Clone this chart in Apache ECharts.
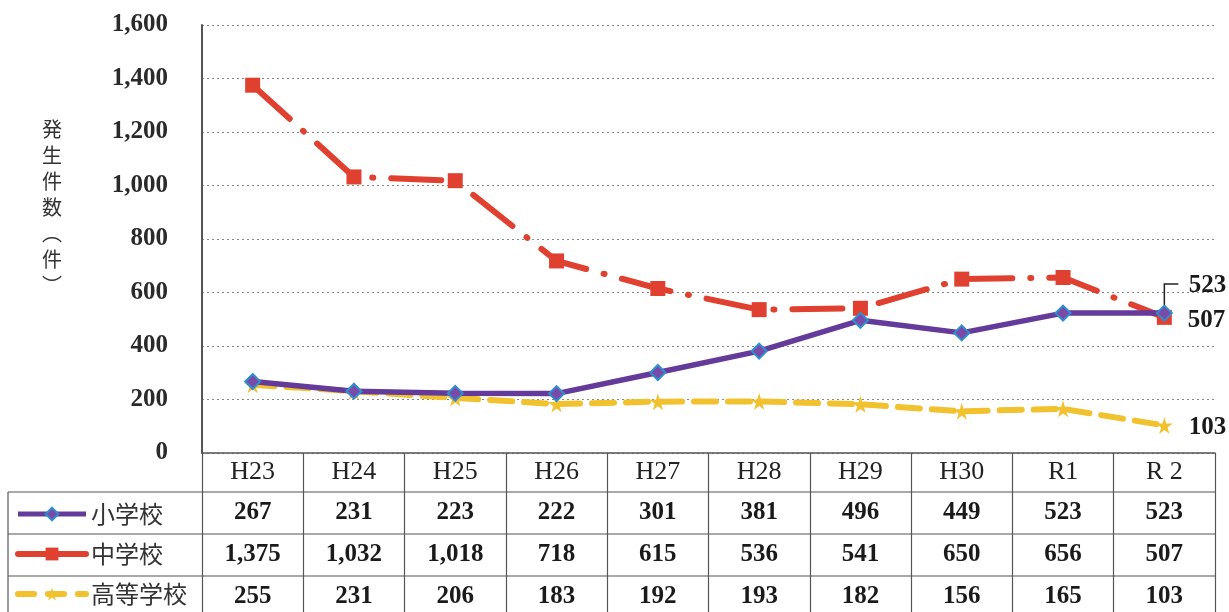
<!DOCTYPE html>
<html>
<head>
<meta charset="utf-8">
<script src="https://cdn.jsdelivr.net/npm/echarts@6/dist/echarts.min.js"></script>
<style>
  html, body { margin: 0; padding: 0; background: #fff; }
  #chart { width: 1229px; height: 612px; }
</style>
</head>
<body>
<div id="chart"></div>
<script>
// 年度
const years = ['H23', 'H24', 'H25', 'H26', 'H27', 'H28', 'H29', 'H30', 'R1', 'R 2'];
// 学校種別
const seriesNames = ['小学校', '中学校', '高等学校'];
const elementary = [267, 231, 223, 222, 301, 381, 496, 449, 523, 523];
const juniorHigh = [1375, 1032, 1018, 718, 615, 536, 541, 650, 656, 507];
const highSchool = [255, 231, 206, 183, 192, 193, 182, 156, 165, 103];
const yTitle = '発\n生\n件\n数\n︵\n件\n︶';

const serifFont = '"Liberation Serif", "DejaVu Serif", serif';
const cjkFont = '"Noto Sans CJK JP", "Noto Sans", sans-serif';

const fmt = v => v.toLocaleString('en-US');

const chart = echarts.init(document.getElementById('chart'));

// 最終年だけラベルを出す
function lastLabel(arr, offset) {
  return arr.map((v, i) => i === arr.length - 1
    ? { value: v, label: { show: true, position: 'right', offset: offset, formatter: fmt(v),
        fontFamily: serifFont, fontWeight: 'bold', fontSize: 25, color: '#1a1a1a' } }
    : v);
}

const starPath = 'path://M50,0 L61,35 L98,35 L68,57 L79,91 L50,70 L21,91 L32,57 L2,35 L39,35 Z';
const red = '#e0402f';
const purple = '#643a9a';
const yellow = '#f2c12e';

const option = {
  backgroundColor: '#ffffff',
  animation: false,
  grid: { left: 202, right: 14, top: 25, bottom: 159 },
  legend: {
    orient: 'vertical',
    left: 15,
    top: 502,
    padding: 0,
    itemWidth: 68,
    itemHeight: 16,
    itemGap: 16,
    textStyle: { fontFamily: cjkFont, fontSize: 24, color: '#333', lineHeight: 24 },
    data: [
      { name: seriesNames[0], lineStyle: { width: 5, color: purple } },
      { name: seriesNames[1], lineStyle: { type: 'solid', width: 6, color: red } },
      { name: seriesNames[2], lineStyle: { type: [16, 14], width: 6, color: yellow } }
    ]
  },
  xAxis: {
    type: 'category',
    data: years,
    boundaryGap: true,
    axisLine: { lineStyle: { color: '#555', width: 1.5 } },
    axisTick: { show: true, inside: false, length: 159, lineStyle: { color: '#555', width: 1.2 } },
    axisLabel: {
      margin: 0,
      interval: 0,
      formatter: (val, idx) => '{h|' + val + '}\n{v|' + fmt(elementary[idx]) + '}\n{v|' +
        fmt(juniorHigh[idx]) + '}\n{v|' + fmt(highSchool[idx]) + '}',
      rich: {
        h: { fontFamily: serifFont, fontSize: 26, color: '#222', lineHeight: 39 },
        v: { fontFamily: serifFont, fontWeight: 'bold', fontSize: 25, color: '#1a1a1a', lineHeight: 42 }
      }
    }
  },
  yAxis: {
    type: 'value',
    min: 0,
    max: 1600,
    interval: 200,
    axisLine: { show: true, lineStyle: { color: '#555', width: 2 } },
    axisTick: { show: false },
    axisLabel: {
      margin: 34,
      formatter: v => fmt(v),
      fontFamily: serifFont,
      fontWeight: 'bold',
      fontSize: 25,
      color: '#2a2a2a'
    },
    splitLine: { lineStyle: { color: '#888', type: [2, 3], width: 1 } }
  },
  series: [
    {
      name: seriesNames[0],
      type: 'line',
      data: lastLabel(elementary, [11, -28]),
      symbol: 'diamond',
      symbolSize: 15,
      z: 3,
      lineStyle: { color: purple, width: 5.5 },
      itemStyle: { color: '#7a4aa8', borderColor: '#2f8fcf', borderWidth: 2 }
    },
    {
      name: seriesNames[1],
      type: 'line',
      data: lastLabel(juniorHigh, [11, 3]),
      symbol: 'rect',
      symbolSize: 15,
      z: 2,
      lineStyle: { color: red, width: 6, type: [50, 18, 1, 18], cap: 'round' },
      itemStyle: { color: red }
    },
    {
      name: seriesNames[2],
      type: 'line',
      data: lastLabel(highSchool, [11, 2]),
      symbol: starPath,
      symbolSize: 17,
      z: 1,
      lineStyle: { color: yellow, width: 6, type: [22, 12], cap: 'round' },
      itemStyle: { color: yellow }
    }
  ]
};

chart.setOption(option);

// 表の罫線、縦書きの軸タイトル、523 の引出し線
const y0 = chart.convertToPixel({ yAxisIndex: 0 }, 0);
const xRight = 1229 - 14;
const rowLines = [39, 81, 123].map(d => ({
  type: 'line',
  shape: { x1: 8, y1: y0 + d, x2: xRight, y2: y0 + d },
  style: { stroke: '#555', lineWidth: 1.2 }
}));
const lastIdx = years.length - 1;
const pt = chart.convertToPixel({ xAxisIndex: 0, yAxisIndex: 0 }, [lastIdx, elementary[lastIdx]]);
chart.setOption({
  graphic: rowLines.concat([
    { type: 'line', shape: { x1: 8, y1: y0 + 39, x2: 8, y2: 612 }, style: { stroke: '#555', lineWidth: 1.2 } },
    { type: 'polyline', shape: { points: [[pt[0], pt[1] - 6], [pt[0], pt[1] - 29], [pt[0] + 14, pt[1] - 29]] },
      style: { stroke: '#222', lineWidth: 1.5, fill: null } },
    { type: 'text', left: 42, top: 116,
      style: { text: yTitle, font: '20px ' + cjkFont, fill: '#333', lineHeight: 26, align: 'center' } }
  ])
});
</script>
</body>
</html>
